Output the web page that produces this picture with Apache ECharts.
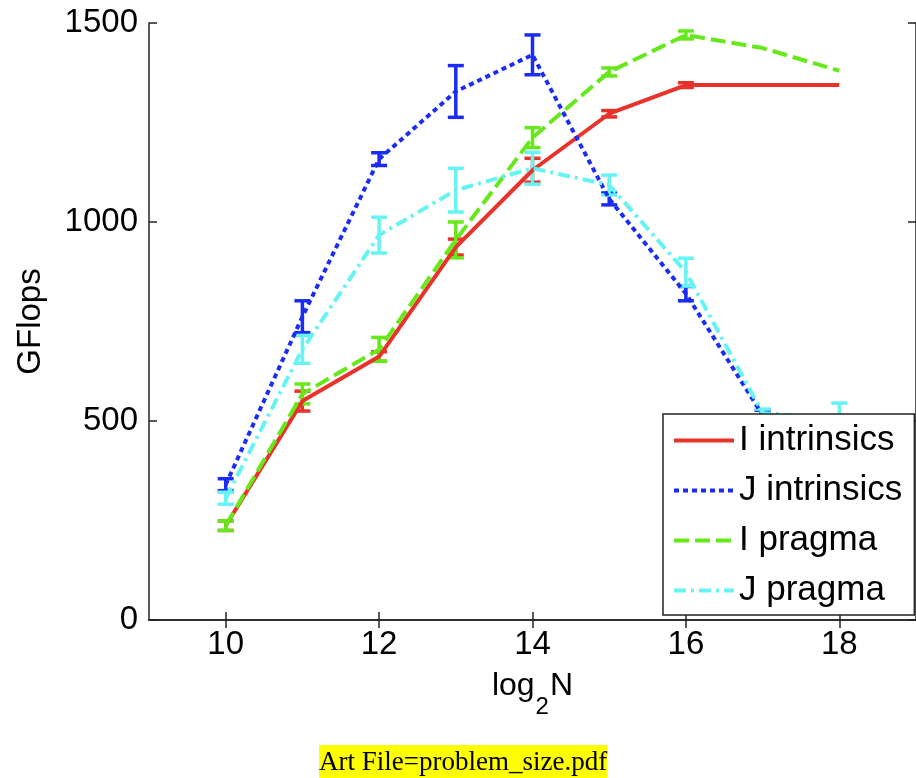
<!DOCTYPE html>
<html>
<head>
<meta charset="utf-8">
<script src="https://cdn.jsdelivr.net/npm/echarts@6/dist/echarts.min.js"></script>
<style>
  html, body { margin: 0; padding: 0; background: #fff; }
  #chart { width: 916px; height: 778px; }
</style>
</head>
<body>
<div id="chart"></div>
<script>
// log2 N
const xs = [10, 11, 12, 13, 14, 15, 16, 17, 18];
const xTicks = [10, 12, 14, 16, 18];

// GFlops
const iIntrinsics = [237, 550, 662, 937, 1130, 1272, 1344, 1344, 1344];
const iIntrinsicsErr = [12, 25, 12, 20, 30, 8, 6, 0, 0];
const jIntrinsics = [340, 762, 1158, 1328, 1420, 1058, 820, 515, 470];
const jIntrinsicsErr = [15, 40, 16, 65, 50, 15, 18, 12, 10];
const iPragma = [237, 568, 680, 955, 1212, 1377, 1470, 1437, 1380];
const iPragmaErr = [12, 25, 30, 45, 25, 10, 10, 0, 0];
const jPragma = [306, 680, 967, 1080, 1135, 1093, 874, 520, 505];
const jPragmaErr = [15, 35, 45, 55, 40, 25, 35, 10, 40];

const font = "'Liberation Sans', Arial, sans-serif";
const chart = echarts.init(document.getElementById("chart"));

function pairs(vals) {
  return xs.map((x, i) => [x, vals[i]]);
}
function triples(vals, errs) {
  return xs.map((x, i) => [x, vals[i], errs[i]]);
}

// matlab style error bar: vertical stroke + two caps
function errBar(color) {
  return function (params, api) {
    const x = api.value(0), y = api.value(1), e = api.value(2);
    if (!e) return;
    const t = api.coord([x, y + e]);
    const b = api.coord([x, y - e]);
    const w = 8;
    const st = { stroke: color, lineWidth: 3.5 };
    return {
      type: "group",
      children: [
        { type: "line", shape: { x1: t[0], y1: t[1], x2: b[0], y2: b[1] }, style: st },
        { type: "line", shape: { x1: t[0] - w, y1: t[1], x2: t[0] + w, y2: t[1] }, style: st },
        { type: "line", shape: { x1: b[0] - w, y1: b[1], x2: b[0] + w, y2: b[1] }, style: st },
      ],
    };
  };
}

function lineSeries(name, vals, color, type, width) {
  return {
    name: name,
    type: "line",
    data: pairs(vals),
    symbol: "none",
    xAxisIndex: 0,
    yAxisIndex: 0,
    lineStyle: { color: color, width: width, type: type },
    itemStyle: { color: color },
    animation: false,
  };
}
function errSeries(name, vals, errs, color) {
  return {
    name: name + " err",
    type: "custom",
    data: triples(vals, errs),
    renderItem: errBar(color),
    encode: { x: 0, y: 1 },
    animation: false,
  };
}

const RED = "#e8322a", BLUE = "#1b2cf3", GREEN = "#66e81a", CYAN = "#66f3f3";

const axisLine = { show: true, lineStyle: { color: "#222", width: 1.5 } };
const tickStyle = { inside: true, length: 8, lineStyle: { color: "#222", width: 1.5 } };

chart.setOption({
  backgroundColor: "#fff",
  animation: false,
  grid: { left: 149, top: 23, width: 772, height: 597 },
  xAxis: [
    {
      type: "value", min: 9, max: 19, position: "bottom",
      axisLine: axisLine,
      axisTick: Object.assign({ customValues: xTicks }, tickStyle),
      axisLabel: { customValues: xTicks, fontSize: 33, fontFamily: font, color: "#000", margin: 8 },
      splitLine: { show: false },
      name: "{n|log}{s|2}{n|N}",
      nameLocation: "middle",
      nameGap: 50,
      nameTextStyle: {
        rich: {
          n: { fontSize: 32, fontFamily: font, color: "#000", lineHeight: 32, verticalAlign: "top" },
          s: { fontSize: 24, fontFamily: font, color: "#000", lineHeight: 24, verticalAlign: "top", padding: [25, 1, 0, 1] },
        },
      },
    },
    {
      type: "value", min: 9, max: 19, position: "top",
      axisLine: axisLine,
      axisTick: Object.assign({ customValues: xTicks }, tickStyle),
      axisLabel: { show: false },
      splitLine: { show: false },
    },
  ],
  yAxis: [
    {
      type: "value", min: 0, max: 1500, interval: 500, position: "left",
      axisLine: axisLine,
      axisTick: tickStyle,
      axisLabel: { fontSize: 33, fontFamily: font, color: "#000", margin: 11, formatter: (v) => String(v) },
      splitLine: { show: false },
      name: "GFlops",
      nameLocation: "middle",
      nameGap: 102,
      nameTextStyle: { fontSize: 33, fontFamily: font, color: "#000" },
    },
    {
      type: "value", min: 0, max: 1500, interval: 500, position: "right",
      axisLine: axisLine,
      axisTick: tickStyle,
      axisLabel: { show: false },
      splitLine: { show: false },
    },
  ],
  legend: {
    orient: "vertical",
    left: 663,
    top: 414,
    itemWidth: 60,
    itemHeight: 14,
    itemGap: 15,
    padding: [9, 12, 7, 9],
    backgroundColor: "#fff",
    borderColor: "#222",
    borderWidth: 1.5,
    borderRadius: 0,
    selectedMode: false,
    itemStyle: { color: "rgba(0,0,0,0)", borderWidth: 0 },
    lineStyle: { width: 4 },
    textStyle: { fontSize: 35, fontFamily: font, color: "#000" },
    data: ["I intrinsics", "J intrinsics", "I pragma", "J pragma"],
  },
  series: [
    lineSeries("I intrinsics", iIntrinsics, RED, "solid", 4),
    errSeries("I intrinsics", iIntrinsics, iIntrinsicsErr, RED),
    lineSeries("J intrinsics", jIntrinsics, BLUE, [5, 4], 4),
    errSeries("J intrinsics", jIntrinsics, jIntrinsicsErr, BLUE),
    lineSeries("I pragma", iPragma, GREEN, [15, 6], 4),
    errSeries("I pragma", iPragma, iPragmaErr, GREEN),
    lineSeries("J pragma", jPragma, CYAN, [12, 5, 3, 5], 4),
    errSeries("J pragma", jPragma, jPragmaErr, CYAN),
  ],
  graphic: [
    {
      type: "text",
      left: 319,
      top: 745,
      z: 100,
      style: {
        text: "Art File=problem_size.pdf",
        fontFamily: "'Liberation Serif', 'DejaVu Serif', serif",
        fontSize: 27,
        fill: "#000",
        backgroundColor: "#ffff00",
        padding: [4, 0, 4, 0],
      },
    },
  ],
});
</script>
</body>
</html>
